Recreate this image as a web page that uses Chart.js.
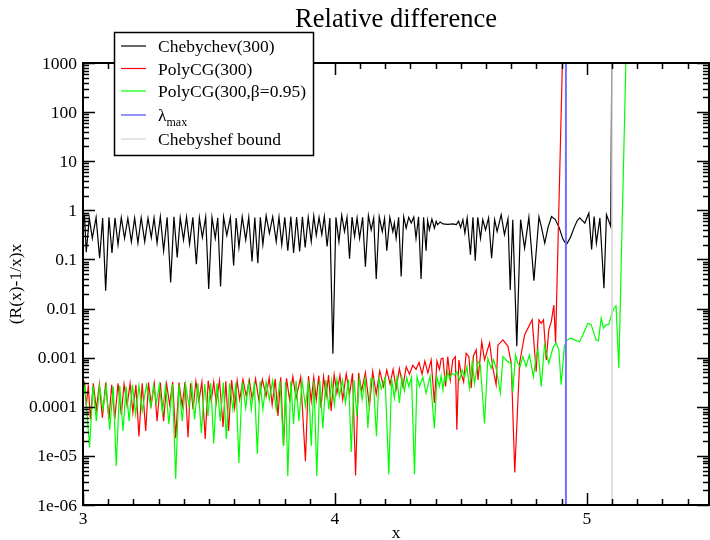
<!DOCTYPE html>
<html><head><meta charset="utf-8">
<script src="https://cdn.jsdelivr.net/npm/chart.js@4.4.0/dist/chart.umd.min.js"></script>
<style>html,body{margin:0;padding:0;background:#fff}#wrap{width:710px;height:540px;position:relative}</style>
</head><body><div id="wrap"><canvas id="c" width="710" height="540"></canvas></div>
<script>
const titleText = 'Relative difference';
const xTitle = 'x';
const yTitle = '(R(x)-1/x)x';
const xTickValues = [3, 4, 5];
const xTickLabels = ['3', '4', '5'];
const yTickValues = [1e-6, 1e-5, 1e-4, 1e-3, 1e-2, 1e-1, 1, 10, 100, 1000];
const yTickLabels = ['1e-06', '1e-05', '0.0001', '0.001', '0.01', '0.1', '1', '10', '100', '1000'];
const seriesNames = ['Chebychev(300)', 'PolyCG(300)', 'PolyCG(300,\u03b2=0.95)', '\u03bb', 'Chebyshef bound'];
const seriesColors = ['#000000', '#ff0000', '#00ff00', '#6f6fff', '#d4d4d4'];

const chebX = [3.000,3.006,3.013,3.025,3.037,3.052,3.066,3.078,3.090,3.103,3.115,3.127,3.139,3.152,3.165,3.178,3.192,3.205,3.218,3.231,3.245,3.258,3.271,3.282,3.294,3.307,3.320,3.334,3.348,3.361,3.374,3.386,3.399,3.411,3.423,3.436,3.450,3.462,3.474,3.487,3.499,3.512,3.525,3.535,3.546,3.558,3.571,3.585,3.598,3.608,3.619,3.632,3.646,3.658,3.671,3.682,3.694,3.704,
3.714,3.727,3.740,3.753,3.767,3.778,3.789,3.801,3.813,3.825,3.836,3.848,3.860,3.871,3.882,3.894,3.906,3.916,3.926,3.937,3.948,3.958,3.969,3.980,3.992,4.004,4.016,4.027,4.038,4.048,4.058,4.068,4.078,4.088,4.098,4.110,4.121,4.133,4.144,4.154,4.164,4.176,4.188,4.197,4.206,4.218,4.230,4.236,4.243,4.253,4.263,4.273,4.283,4.293,4.303,4.313,4.322,4.332,4.342,4.352,4.362,4.368,4.375,4.385,4.395,4.402,4.408,4.418,
4.429,4.448,4.468,4.482,4.491,4.499,4.508,4.516,4.525,4.538,4.548,4.557,4.567,4.578,4.587,4.598,4.610,4.622,4.634,4.644,4.660,4.673,4.687,4.696,4.706,4.722,4.737,4.753,4.770,4.790,4.810,4.820,4.833,4.846,4.860,4.875,4.890,4.905,4.919,4.935,4.950,4.962,4.972,4.992,5.008,5.019,5.029,5.038,5.052,5.068,5.078,5.095,5.100];
const chebY = [0.60,0.74,0.14,0.70,0.27,0.72,0.106,0.70,0.023,0.72,0.135,0.70,0.20,0.71,0.27,0.69,0.23,0.70,0.215,0.71,0.23,0.69,0.28,0.70,0.215,0.74,0.15,0.72,0.034,0.74,0.11,0.71,0.25,0.73,0.205,0.72,0.080,0.71,0.28,0.73,0.025,0.72,0.27,0.70,0.028,0.73,0.31,0.72,0.075,0.70,0.176,0.74,0.25,0.72,0.091,0.71,0.084,0.72,
0.20,0.78,0.34,0.74,0.23,0.73,0.20,0.72,0.15,0.75,0.135,0.73,0.146,0.74,0.176,0.72,0.23,0.77,0.31,0.72,0.32,0.75,0.184,0.70,0.0012,0.72,0.23,0.80,0.37,0.72,0.103,0.73,0.295,0.70,0.27,0.72,0.071,0.78,0.40,0.70,0.040,0.74,0.37,0.68,0.15,0.72,0.37,0.55,0.27,0.72,0.045,0.74,0.435,0.72,0.55,0.73,0.27,0.74,0.040,0.72,0.15,0.62,0.40,0.66,0.435,0.60,0.51,0.58,
0.53,0.52,0.53,0.51,0.60,0.45,0.645,0.345,0.70,0.125,0.72,0.094,0.72,0.27,0.645,0.40,0.70,0.106,0.645,0.37,0.815,0.32,0.675,0.024,0.645,0.0017,0.645,0.17,0.72,0.037,0.74,0.45,0.215,0.45,0.75,0.65,0.45,0.26,0.20,0.28,0.45,0.62,0.70,0.55,0.88,0.16,0.75,0.215,0.70,0.026,0.815,0.47,5000];

const cgX = [3.000,3.006,3.013,3.021,3.029,3.041,3.053,3.065,3.077,3.090,3.103,3.114,3.126,3.139,3.152,3.163,3.175,3.187,3.198,3.210,3.222,3.235,3.249,3.260,3.271,3.283,3.294,3.307,3.320,3.332,3.344,3.356,3.368,3.381,3.394,3.405,3.417,3.427,3.437,3.448,3.460,3.472,3.485,3.497,3.509,3.519,3.529,3.542,3.556,3.567,3.578,3.590,3.602,3.612,3.622,3.635,3.648,3.660,3.672,3.685,3.698,3.712,3.727,3.739,3.751,3.763,3.774,3.785,3.796,3.808,3.820,3.833,3.846,3.864,3.883,3.895,3.906,3.916,3.926,3.936,3.945,3.955,3.965,3.975,3.985,3.997,4.008,4.020,4.031,4.045,4.058,4.070,4.082,4.094,4.106,4.121,4.137,4.150,4.164,4.178,4.193,4.206,4.219,4.231,4.243,4.256,4.270,4.283,4.296,4.309,4.322,4.334,4.346,4.357,4.369,4.382,4.395,4.405,4.415,4.422,
4.429,4.439,4.448,4.458,4.468,4.478,4.484,4.492,4.501,4.511,4.521,4.532,4.541,4.550,4.561,4.568,4.583,4.594,4.614,4.627,4.640,4.647,4.667,4.687,4.700,4.714,4.733,4.753,4.783,4.799,4.810,4.819,4.828,4.839,4.849,4.859,4.869,4.876,4.903,4.906];
const cgY = [2.0e-4,2.9e-4,1.03e-4,2.8e-4,5.5e-5,3.0e-4,8.8e-5,2.9e-4,6.0e-5,3.1e-4,5.5e-5,2.8e-4,5.5e-5,3.0e-4,6.9e-5,2.9e-4,1.07e-4,3.0e-4,7.6e-5,2.8e-4,2.5e-5,3.0e-4,3.2e-5,3.1e-4,1.1e-4,3.0e-4,5.1e-5,3.1e-4,5.1e-5,2.9e-4,1.1e-4,3.2e-4,2.3e-5,3.1e-4,1.03e-4,3.2e-4,2.4e-5,3.0e-4,8.8e-5,3.3e-4,1.3e-4,3.2e-4,2.2e-5,3.4e-4,1.3e-4,3.2e-4,1.2e-4,3.4e-4,3.9e-5,3.3e-4,3.2e-5,3.5e-4,9.5e-5,3.4e-4,1.4e-4,3.6e-4,1.65e-4,3.5e-4,1.4e-4,3.7e-4,1.37e-4,3.6e-4,1.65e-4,3.9e-4,1.1e-4,3.7e-4,6.5e-5,4.0e-4,1.6e-5,3.8e-4,1.4e-4,4.1e-4,1.5e-4,4.0e-4,7.8e-6,4.2e-4,1.3e-4,4.0e-4,1.4e-4,4.3e-4,9.5e-5,4.1e-4,1.65e-4,4.4e-4,8.2e-5,4.5e-4,1.9e-4,4.4e-4,1.4e-4,4.7e-4,1.8e-4,4.8e-4,4.0e-6,4.9e-4,2.1e-4,5.0e-4,1.0e-4,5.2e-4,1.8e-4,5.4e-4,2.6e-4,5.6e-4,2.9e-4,5.8e-4,2.3e-4,6.0e-4,2.6e-4,6.5e-4,4.6e-4,7.0e-4,5.8e-4,8.0e-4,4.6e-4,8.5e-4,4.9e-4,9.0e-4,1.2e-4,8.5e-4,5.8e-4,9.5e-4,
9.7e-4,2.6e-4,1.05e-3,3.5e-4,9.0e-4,1.05e-3,3.4e-5,9.0e-4,4.8e-4,3.2e-4,1.23e-3,1.05e-3,2.4e-4,1.1e-3,1.44e-3,3.5e-4,2.1e-3,9.0e-4,2.0e-3,6.1e-4,2.8e-4,1.8e-3,2.3e-3,1.7e-3,7.7e-4,4.6e-6,7.7e-4,2.9e-3,5.9e-3,5.2e-4,5.9e-3,5.0e-3,5.9e-3,9.0e-4,3.7e-3,5.4e-3,0.0118,2.0e-3,1000,5000];

const cgbX = [3.000,3.008,3.026,3.040,3.053,3.066,3.079,3.092,3.106,3.120,3.132,3.146,3.159,3.171,3.183,3.196,3.209,3.222,3.235,3.252,3.269,3.280,3.291,3.303,3.315,3.328,3.341,3.355,3.368,3.381,3.394,3.407,3.421,3.432,3.443,3.456,3.470,3.483,3.496,3.507,3.519,3.532,3.545,3.557,3.569,3.582,3.595,3.607,3.619,3.632,3.646,3.657,3.668,3.680,3.692,3.703,3.714,3.727,3.740,3.753,3.767,3.782,3.796,3.804,3.813,3.825,3.836,3.846,3.857,3.870,3.883,3.895,3.906,3.917,3.928,3.940,3.952,3.964,3.976,3.987,3.998,4.008,4.018,4.030,4.042,4.054,4.065,4.076,4.087,4.097,4.108,4.120,4.131,4.143,4.152,4.165,4.175,4.184,4.199,4.214,4.225,4.236,4.246,4.256,4.266,4.276,4.285,4.293,4.304,4.316,4.326,4.336,4.349,4.362,4.378,4.395,4.405,4.415,4.422,
4.429,4.435,4.442,4.448,4.455,4.466,4.475,4.484,4.495,4.505,4.515,4.524,4.534,4.545,4.554,4.568,4.577,4.594,4.607,4.620,4.630,4.640,4.657,4.667,4.686,4.700,4.706,4.717,4.726,4.735,4.746,4.759,4.772,4.788,4.799,4.806,4.819,4.832,4.849,4.865,4.878,4.889,4.898,4.911,4.921,4.938,4.951,4.971,4.984,5.004,5.017,5.037,5.046,5.057,5.066,5.077,5.087,5.096,5.106,5.116,5.127,5.155,5.158];
const cgbY = [1.5e-4,2.6e-4,1.5e-5,2.7e-4,5.1e-5,2.6e-4,8.8e-5,2.7e-4,3.4e-5,2.6e-4,6.2e-6,2.7e-4,3.2e-5,2.6e-4,5.1e-5,2.8e-4,7.0e-5,2.7e-4,8.2e-5,2.8e-4,1.0e-4,2.7e-4,1.2e-4,2.8e-4,7.5e-5,2.7e-4,4.4e-5,2.9e-4,3.4e-6,2.8e-4,5.1e-5,2.9e-4,1.03e-4,2.8e-4,5.5e-5,3.0e-4,2.9e-5,2.9e-4,6.5e-5,3.0e-4,1.8e-5,3.0e-4,5.1e-5,3.1e-4,2.2e-5,3.0e-4,8.8e-5,3.1e-4,7.2e-6,3.2e-4,9.5e-5,3.1e-4,8.8e-5,3.2e-4,1.1e-5,3.3e-4,8.8e-5,3.2e-4,1.4e-4,3.4e-4,8.8e-5,3.3e-4,1.6e-5,3.2e-4,3.9e-6,3.3e-4,4.4e-5,3.4e-4,5.1e-5,3.3e-4,1.03e-4,3.4e-4,1.6e-5,3.3e-4,3.9e-6,3.4e-4,3.6e-5,3.5e-4,8.8e-5,3.4e-4,1.1e-4,3.6e-4,1.65e-4,3.5e-4,1.2e-4,3.6e-4,1.2e-5,3.5e-4,6.5e-5,3.7e-4,1.4e-4,3.6e-4,3.7e-5,3.8e-4,3.7e-4,2.5e-5,3.8e-4,2.3e-4,3.9e-4,4.2e-6,3.8e-4,1.5e-4,3.9e-4,1.2e-4,4.0e-4,2.1e-4,3.9e-4,2.6e-4,4.0e-4,4.2e-6,4.1e-4,2.6e-4,4.0e-4,1.9e-4,4.2e-4,3.6e-5,4.1e-4,2.6e-4,4.3e-4,
2.2e-4,4.1e-4,3.3e-4,5.2e-4,3.8e-4,4.8e-4,4.4e-4,5.2e-4,3.5e-4,5.6e-4,4.1e-4,6.6e-4,2.4e-4,8.3e-4,3.0e-4,8.3e-4,7.1e-4,4.6e-5,9.7e-4,6.1e-4,9.0e-4,6.1e-4,1.9e-4,1.05e-3,8.3e-4,7.7e-4,2.0e-4,1.14e-3,7.7e-4,6.6e-4,1.05e-3,6.6e-4,1.14e-3,4.1e-4,1.05e-3,1.44e-3,2.6e-4,1.8e-3,7.7e-4,1.55e-3,2.0e-3,1.44e-3,2.8e-4,1.7e-3,2.3e-3,2.5e-3,2.3e-3,2.1e-3,2.9e-3,5.0e-3,4.7e-3,2.3e-3,2.2e-3,6.4e-3,4.0e-3,4.7e-3,4.7e-3,6.9e-3,9.8e-3,0.0113,6.1e-4,1000,5000];

const lambdaX = [4.917, 4.917];
const lambdaY = [1e-6, 1000];
const boundX = [5.100, 5.100];
const boundY = [1e-6, 1000];

function pts(xs, ys) { return xs.map((x, i) => ({x: x, y: ys[i]})); }

const SERIF = "'Liberation Serif','DejaVu Serif',serif";

const framePlugin = {
  id: 'frame',
  afterDatasetsDraw(chart) {
    const ctx = chart.ctx;
    const a = chart.chartArea;
    const xs = chart.scales.x, ys = chart.scales.y;
    ctx.save();
    ctx.strokeStyle = '#000';
    ctx.lineWidth = 1.5;
    ctx.beginPath();
    for (let i = 30; i <= 54; i++) {
      const v = i / 10;
      const px = Math.round(xs.getPixelForValue(v)) + 0.5;
      const len = (i % 10 === 0) ? 12 : 6;
      ctx.moveTo(px, a.bottom); ctx.lineTo(px, a.bottom - len);
      ctx.moveTo(px, a.top); ctx.lineTo(px, a.top + len);
    }
    for (let d = -6; d <= 3; d++) {
      for (let k = 1; k <= 9; k++) {
        if (d === 3 && k > 1) break;
        const v = k * Math.pow(10, d);
        const py = Math.round(ys.getPixelForValue(v)) + 0.5;
        const len = (k === 1) ? 12 : 6;
        ctx.moveTo(a.left, py); ctx.lineTo(a.left + len, py);
        ctx.moveTo(a.right, py); ctx.lineTo(a.right - len, py);
      }
    }
    ctx.stroke();
    ctx.lineWidth = 2;
    ctx.strokeRect(a.left, a.top, a.right - a.left, a.bottom - a.top);

    ctx.fillStyle = '#000';
    ctx.font = '17.5px ' + SERIF;
    ctx.textAlign = 'right';
    ctx.textBaseline = 'middle';
    yTickValues.forEach((v, i) => {
      ctx.fillText(yTickLabels[i], 77, ys.getPixelForValue(v) + 1);
    });
    ctx.textAlign = 'center';
    ctx.textBaseline = 'middle';
    xTickValues.forEach((v, i) => {
      ctx.fillText(xTickLabels[i], xs.getPixelForValue(v), 519);
    });
    ctx.textBaseline = 'alphabetic';
    ctx.fillText(xTitle, (a.left + a.right) / 2, 538);
    ctx.save();
    ctx.translate(21, (a.top + a.bottom) / 2);
    ctx.rotate(-Math.PI / 2);
    ctx.textAlign = 'center';
    ctx.fillText(yTitle, 0, 0);
    ctx.restore();
    ctx.font = '26.5px ' + SERIF;
    ctx.fillText(titleText, (a.left + a.right) / 2, 27);

    const L = {x: 114, y: 32, w: 199, h: 123};
    ctx.fillStyle = '#fff';
    ctx.fillRect(L.x, L.y, L.w, L.h);
    ctx.strokeStyle = '#000';
    ctx.lineWidth = 1.5;
    ctx.strokeRect(L.x + 0.5, L.y + 0.5, L.w, L.h);
    const base = [52, 74.5, 97, 121, 145];
    ctx.font = '17.5px ' + SERIF;
    ctx.textAlign = 'left';
    seriesNames.forEach((n, i) => {
      ctx.strokeStyle = seriesColors[i];
      ctx.lineWidth = (i === 3) ? 1.5 : 1.2;
      ctx.beginPath();
      ctx.moveTo(121, base[i] - 6); ctx.lineTo(146, base[i] - 6);
      ctx.stroke();
      ctx.fillStyle = '#000';
      ctx.fillText(n, 158, base[i]);
      if (i === 3) {
        const w = ctx.measureText(n).width;
        ctx.font = '12px ' + SERIF;
        ctx.fillText('max', 158 + w, base[i] + 5);
        ctx.font = '17.5px ' + SERIF;
      }
    });
    ctx.restore();
  }
};

const ds = (label, data, color, width, order) => ({
  label, data, borderColor: color, backgroundColor: color, borderWidth: width,
  pointRadius: 0, showLine: true, tension: 0, fill: false, order: order
});

new Chart(document.getElementById('c'), {
  type: 'scatter',
  data: {
    datasets: [
      ds(seriesNames[0], pts(chebX, chebY), seriesColors[0], 1.2, 5),
      ds(seriesNames[1], pts(cgX, cgY), seriesColors[1], 1.2, 4),
      ds(seriesNames[2], pts(cgbX, cgbY), seriesColors[2], 1.2, 3),
      ds('lambda max', pts(lambdaX, lambdaY), seriesColors[3], 2, 2),
      ds(seriesNames[4], pts(boundX, boundY), seriesColors[4], 1.5, 1)
    ]
  },
  options: {
    responsive: false,
    devicePixelRatio: 1,
    animation: false,
    layout: {padding: {top: 63, right: 1, left: 0, bottom: 0}},
    plugins: {legend: {display: false}, tooltip: {enabled: false}, title: {display: false}},
    scales: {
      x: {
        type: 'linear', min: 3, max: 5.485,
        grid: {display: false}, border: {display: false},
        ticks: {display: false},
        afterFit(s) { s.height = 35; }
      },
      y: {
        type: 'logarithmic', min: 1e-6, max: 1000,
        grid: {display: false}, border: {display: false},
        ticks: {display: false},
        afterFit(s) { s.width = 83; }
      }
    }
  },
  plugins: [framePlugin]
});
</script>
</body></html>
